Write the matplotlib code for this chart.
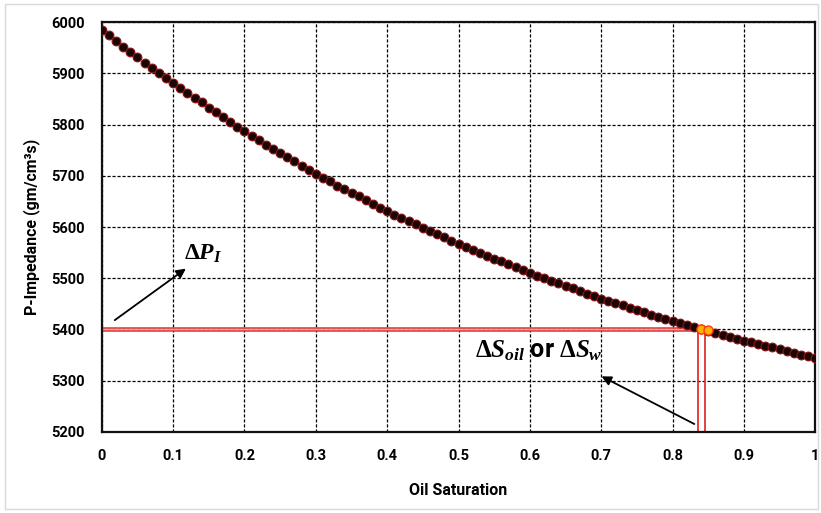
import numpy as np
import matplotlib
matplotlib.use('Agg')
import matplotlib.pyplot as plt
from matplotlib.patches import Rectangle

# Oil saturation (0 to 1, step 0.01) and P-impedance
sat = [i / 100 for i in range(101)]
imp = [5985, 5974, 5963, 5952, 5942, 5931, 5921, 5911, 5901, 5891,
       5881, 5871, 5862, 5852, 5843, 5833, 5824, 5815, 5805, 5796,
       5787, 5778, 5770, 5761, 5753, 5745, 5736, 5728, 5720, 5712,
       5704, 5696, 5689, 5681, 5674, 5667, 5660, 5652, 5645, 5638,
       5631, 5624, 5618, 5611, 5605, 5599, 5592, 5586, 5580, 5573,
       5567, 5561, 5556, 5550, 5544, 5538, 5533, 5527, 5521, 5516,
       5510, 5505, 5500, 5495, 5490, 5485, 5480, 5475, 5470, 5465,
       5460, 5456, 5451, 5447, 5442, 5438, 5434, 5429, 5425, 5420,
       5416, 5412, 5408, 5404, 5401, 5397, 5393, 5389, 5385, 5382,
       5378, 5375, 5371, 5368, 5365, 5361, 5358, 5355, 5351, 5348,
       5345]

# highlighted pair of saturations and the impedance level they sit on
sel_sat = [0.84, 0.85]
sel_imp = [5401, 5399]
imp_level = 5400

plt.rcParams['font.family'] = ['Roboto', 'DejaVu Sans']
plt.rcParams['mathtext.fontset'] = 'custom'
plt.rcParams['mathtext.rm'] = 'Liberation Serif:bold'
plt.rcParams['mathtext.it'] = 'Liberation Serif:italic:bold'

fig = plt.figure(figsize=(8.21, 5.13), dpi=100)
fig.patches.append(Rectangle((0.006, 0.008), 0.99, 0.985, transform=fig.transFigure,
                             fill=False, edgecolor='#d9d9d9', linewidth=1))
ax = fig.add_axes([0.124, 0.158, 0.869, 0.799])

ax.set_xlim(0, 1)
ax.set_ylim(5200, 6000)
ax.set_xticks(np.arange(0, 1.01, 0.1))
ax.set_yticks(np.arange(5200, 6001, 100))
ax.set_xticklabels(['0', '0.1', '0.2', '0.3', '0.4', '0.5', '0.6', '0.7', '0.8', '0.9', '1'])
ax.grid(True, color='black', linestyle=(0, (2.5, 1.5)), linewidth=0.9)
ax.set_axisbelow(True)
for s in ax.spines.values():
    s.set_linewidth(1.6)
    s.set_color('#111111')
ax.tick_params(length=0, pad=12, labelsize=10.5)
for lab in ax.get_xticklabels() + ax.get_yticklabels():
    lab.set_fontweight('bold')

# red band marking the impedance change
band_end = sel_sat[0]
ax.add_patch(Rectangle((0, imp_level - 3), band_end, 6, facecolor='#f4b6b6',
                       edgecolor='#e03030', linewidth=1.2, alpha=0.9, zorder=2))
# vertical lines down to the saturation axis
for xs in sel_sat:
    ax.plot([xs - 0.004, xs - 0.004], [5200, imp_level], color='#e03030', linewidth=1.3, zorder=2)

ax.plot(sat, imp, linestyle='none', marker='o', markersize=6.3,
        markerfacecolor='#1a0505', markeredgecolor='#8a1515', markeredgewidth=0.8, zorder=3)
ax.plot(sel_sat, sel_imp, linestyle='none', marker='o', markersize=6.5,
        markerfacecolor='#ffb000', markeredgecolor='#ff3a10', markeredgewidth=1, zorder=4)

ax.annotate('', xy=(0.121, 5522), xytext=(0.015, 5415),
            arrowprops=dict(arrowstyle='-|>', color='black', lw=1.3, mutation_scale=14))
ax.text(0.142, 5549, r'$\Delta P_I$', fontsize=17, ha='center', va='center')

ax.annotate('', xy=(0.697, 5311), xytext=(0.834, 5213),
            arrowprops=dict(arrowstyle='-|>', color='black', lw=1.3, mutation_scale=14))
ax.text(0.612, 5358, r'$\Delta S_{oil}$' + ' or ' + r'$\Delta S_w$',
        fontsize=18, ha='center', va='center', fontweight='bold')

ax.set_xlabel('Oil Saturation', fontsize=11.5, fontweight='bold', labelpad=15)
ax.set_ylabel('P-Impedance (gm/cm³s)', fontsize=11.5, fontweight='bold', labelpad=8)

fig.savefig('out.png', dpi=100)
